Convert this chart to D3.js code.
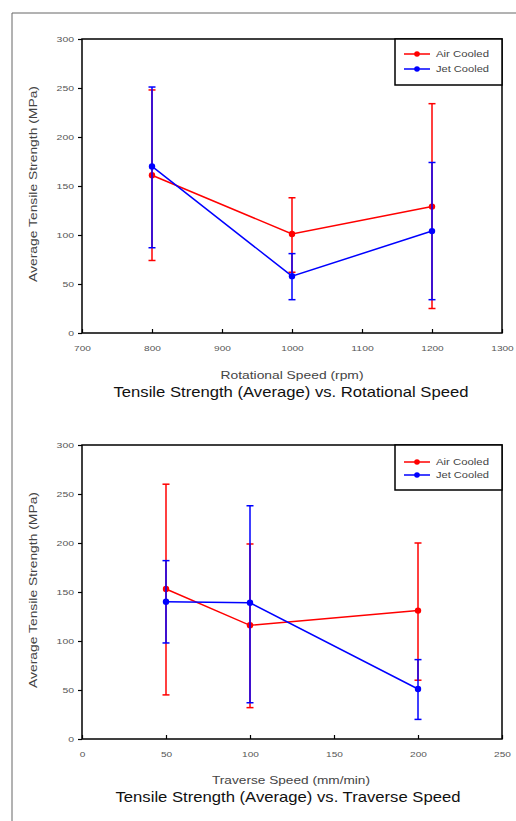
<!DOCTYPE html>
<html>
<head>
<meta charset="utf-8">
<script src="https://cdn.jsdelivr.net/npm/d3@7"></script>
<style>
  body { margin: 0; background: #fff; }
  svg { display: block; font-family: "Liberation Sans", Arial, sans-serif; }
</style>
</head>
<body>
<div class="chart"></div>
<script>
// chart 1 : rotational speed
const rotSpeeds = [800, 1000, 1200]
const rotAir = [161, 101, 129]
const rotAirHi = [248, 138, 234]
const rotAirLo = [74, 62, 25]
const rotJet = [170, 58, 104]
const rotJetHi = [251, 81, 174]
const rotJetLo = [87, 34, 34]
const rotTicks = [700, 800, 900, 1000, 1100, 1200, 1300]

// chart 2 : traverse speed
const travSpeeds = [50, 100, 200]
const travAir = [153, 116, 131]
const travAirHi = [260, 199, 200]
const travAirLo = [45, 32, 60]
const travJet = [140, 139, 51]
const travJetHi = [182, 238, 81]
const travJetLo = [98, 37, 20]
const travTicks = [0, 50, 100, 150, 200, 250]

const yTicks = [0, 50, 100, 150, 200, 250, 300]
const seriesNames = ['Air Cooled', 'Jet Cooled']
const colors = ['#ff0000', '#0000ff']

const W = 516, H = 821

let svg = d3.select('.chart').append('svg')
    .attr('width', W)
    .attr('height', H)

// outer page frame
svg.append('path')
    .attr('d', `M12,${H} L12,13 L${W},13`)
    .attr('fill', 'none')
    .attr('stroke', '#666')
    .attr('stroke-width', 1)

// stretched look of the original export
function stretch(sel, perChar){
    sel.attr('textLength', function(){ return this.textContent.length * perChar })
        .attr('lengthAdjust', 'spacingAndGlyphs')
}

function drawChart(top, opts){
    const left = 82, right = 502, bottom = top + 294
    let g = svg.append('g')

    let x = d3.scaleLinear().domain(opts.xDomain).range([left, right])
    let y = d3.scaleLinear().domain([0, 300]).range([bottom, top])

    // y axis, ticks outward
    let ya = g.append('g')
        .attr('transform', 'translate(' + left + ',0)')
        .call(d3.axisLeft(y).tickValues(yTicks).tickSize(4).tickPadding(4).tickFormat(d3.format('d')))
    ya.select('.domain').remove()
    ya.selectAll('line').attr('stroke', '#000').attr('stroke-width', 1.2)
    ya.selectAll('text').attr('font-size', 8).attr('fill', '#555')
        .attr('font-family', '"Liberation Sans", Arial, sans-serif')
        .call(stretch, 5.8)

    // x axis, ticks inward
    let xa = g.append('g')
        .attr('transform', 'translate(0,' + bottom + ')')
        .call(d3.axisBottom(x).tickValues(opts.xTicks).tickSizeInner(-4).tickSizeOuter(0).tickPadding(12).tickFormat(d3.format('d')))
    xa.select('.domain').remove()
    xa.selectAll('line').attr('stroke', '#000').attr('stroke-width', 1.2)
    xa.selectAll('text').attr('font-size', 8).attr('fill', '#555')
        .attr('font-family', '"Liberation Sans", Arial, sans-serif')
        .call(stretch, 5.6)

    // plot frame
    g.append('rect')
        .attr('x', left).attr('y', top)
        .attr('width', right - left).attr('height', bottom - top)
        .attr('fill', 'none').attr('stroke', '#000').attr('stroke-width', 1.5)

    // axis titles
    g.append('text')
        .attr('transform', 'translate(37,' + (opts.yLabelY) + ') rotate(-90)')
        .attr('text-anchor', 'middle')
        .attr('font-size', 10.5)
        .attr('fill', '#444')
        .attr('textLength', 196)
        .attr('lengthAdjust', 'spacingAndGlyphs')
        .text('Average Tensile Strength (MPa)')

    g.append('text')
        .attr('x', opts.xTitleX).attr('y', bottom + opts.xTitleDy)
        .attr('text-anchor', 'middle')
        .attr('font-size', 10.5)
        .attr('fill', '#444')
        .attr('textLength', opts.xTitleLen)
        .attr('lengthAdjust', 'spacingAndGlyphs')
        .text(opts.xTitle)

    g.append('text')
        .attr('x', opts.titleX).attr('y', bottom + opts.xTitleDy + 18)
        .attr('text-anchor', 'middle')
        .attr('font-size', 15)
        .attr('fill', '#111')
        .attr('textLength', opts.titleLen)
        .attr('lengthAdjust', 'spacingAndGlyphs')
        .text(opts.title)

    let line = d3.line()
        .x(d => x(d[0]))
        .y(d => y(d[1]))

    opts.series.forEach((s, k) => {
        let c = colors[k]
        // error bars
        s.vals.forEach((v, i) => {
            let cx = x(opts.xs[i])
            g.append('line')
                .attr('x1', cx).attr('x2', cx)
                .attr('y1', y(s.lo[i])).attr('y2', y(s.hi[i]))
                .attr('stroke', c).attr('stroke-width', 1.5)
            ;[s.lo[i], s.hi[i]].forEach(e => {
                g.append('line')
                    .attr('x1', cx - 3.5).attr('x2', cx + 3.5)
                    .attr('y1', y(e)).attr('y2', y(e))
                    .attr('stroke', c).attr('stroke-width', 1.5)
            })
        })
        g.append('path')
            .datum(opts.xs.map((d, i) => [d, s.vals[i]]))
            .attr('d', line)
            .attr('fill', 'none')
            .attr('stroke', c)
            .attr('stroke-width', 1.5)
        g.selectAll('.m' + k)
            .data(s.vals)
            .join('circle')
            .attr('cx', (d, i) => x(opts.xs[i]))
            .attr('cy', d => y(d))
            .attr('r', 3.2)
            .attr('fill', c)
    })

    // legend
    let lg = g.append('g')
    lg.append('rect')
        .attr('x', 395).attr('y', top)
        .attr('width', right - 395).attr('height', opts.legendH)
        .attr('fill', '#fff').attr('stroke', '#000').attr('stroke-width', 1.5)
    seriesNames.forEach((n, k) => {
        let ly = top + opts.legendY0 + k * opts.legendDy
        lg.append('line')
            .attr('x1', 404).attr('x2', 430)
            .attr('y1', ly).attr('y2', ly)
            .attr('stroke', colors[k]).attr('stroke-width', 1.5)
        lg.append('circle')
            .attr('cx', 417).attr('cy', ly).attr('r', 2.8)
            .attr('fill', colors[k])
        lg.append('text')
            .attr('x', 436).attr('y', ly + 3)
            .attr('font-size', 8.5)
            .attr('fill', '#444')
            .attr('textLength', 53)
            .attr('lengthAdjust', 'spacingAndGlyphs')
            .text(n)
    })
}

drawChart(39, {
    xDomain: [700, 1300],
    xTicks: rotTicks,
    xs: rotSpeeds,
    xTitle: 'Rotational Speed (rpm)',
    xTitleX: 292,
    xTitleLen: 143,
    xTitleDy: 46,
    title: 'Tensile Strength (Average) vs. Rotational Speed',
    titleX: 291,
    titleLen: 355,
    yLabelY: 184,
    legendH: 46,
    legendY0: 15,
    legendDy: 15,
    series: [
        {vals: rotAir, hi: rotAirHi, lo: rotAirLo},
        {vals: rotJet, hi: rotJetHi, lo: rotJetLo}
    ]
})

drawChart(445, {
    xDomain: [0, 250],
    xTicks: travTicks,
    xs: travSpeeds,
    xTitle: 'Traverse Speed (mm/min)',
    xTitleX: 291,
    xTitleLen: 158,
    xTitleDy: 45,
    title: 'Tensile Strength (Average)  vs. Traverse Speed',
    titleX: 288,
    titleLen: 345,
    yLabelY: 590,
    legendH: 45,
    legendY0: 17,
    legendDy: 13,
    series: [
        {vals: travAir, hi: travAirHi, lo: travAirLo},
        {vals: travJet, hi: travJetHi, lo: travJetLo}
    ]
})
</script>
</body>
</html>
